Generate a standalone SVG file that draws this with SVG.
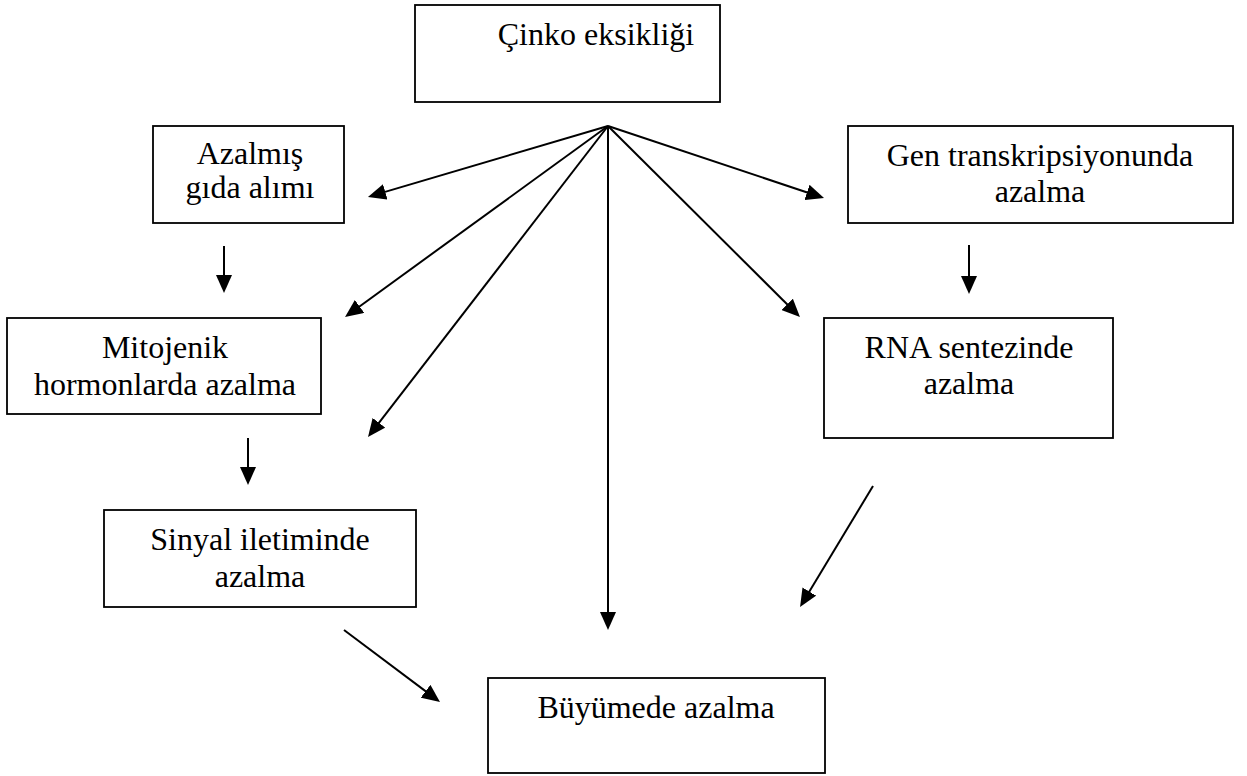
<svg xmlns="http://www.w3.org/2000/svg" width="1247" height="776" viewBox="0 0 1247 776">
<style>
.box{fill:#fff;stroke:#000;stroke-width:1.8}
.t{font-family:"Liberation Serif","Times New Roman",serif;font-size:32px;fill:#000;text-anchor:middle}
.c{stroke:#000;stroke-width:2;fill:none;marker-end:url(#ah)}
</style>
<defs>
<marker id="ah" markerUnits="userSpaceOnUse" markerWidth="18" markerHeight="16" refX="9" refY="8" orient="auto">
<path d="M0,0 L18,8 L0,16 z" fill="#000"/>
</marker>
</defs>
<rect width="1247" height="776" fill="#fff"/>
<g id="connectors">
<line class="c" x1="608" y1="126" x2="376.6" y2="194.4"/>
<line class="c" x1="608" y1="126" x2="352.3" y2="311.7"/>
<line class="c" x1="608" y1="126" x2="373.5" y2="429.9"/>
<line class="c" x1="608" y1="126" x2="608" y2="621"/>
<line class="c" x1="608" y1="126" x2="793.6" y2="310.7"/>
<line class="c" x1="608" y1="126" x2="815.5" y2="195.2"/>
<line class="c" x1="224" y1="246" x2="224" y2="284"/>
<line class="c" x1="248" y1="438" x2="248" y2="476"/>
<line class="c" x1="969" y1="245" x2="969" y2="285"/>
<line class="c" x1="873" y1="486" x2="804.7" y2="599.3"/>
<line class="c" x1="344" y1="630" x2="432.8" y2="696.6"/>
</g>
<g id="n-cinko">
<rect class="box" x="415" y="5" width="305" height="97"/>
<text class="t" x="596" y="45">Çinko eksikliği</text>
</g>
<g id="n-azalmis">
<rect class="box" x="153" y="126" width="191" height="97"/>
<text class="t" x="250" y="164">Azalmış</text>
<text class="t" x="250" y="198">gıda alımı</text>
</g>
<g id="n-gen">
<rect class="box" x="848" y="126" width="385" height="97"/>
<text class="t" x="1040" y="166">Gen transkripsiyonunda</text>
<text class="t" x="1040" y="202">azalma</text>
</g>
<g id="n-mitojenik">
<rect class="box" x="7" y="318" width="314" height="96"/>
<text class="t" x="165" y="358">Mitojenik</text>
<text class="t" x="165" y="395">hormonlarda azalma</text>
</g>
<g id="n-rna">
<rect class="box" x="824" y="318" width="289" height="120"/>
<text class="t" x="969" y="358">RNA sentezinde</text>
<text class="t" x="969" y="394">azalma</text>
</g>
<g id="n-sinyal">
<rect class="box" x="104" y="510" width="312" height="97"/>
<text class="t" x="260" y="550">Sinyal iletiminde</text>
<text class="t" x="260" y="587">azalma</text>
</g>
<g id="n-buyume">
<rect class="box" x="488" y="678" width="337" height="95"/>
<text class="t" x="656" y="718">Büyümede azalma</text>
</g>
</svg>
